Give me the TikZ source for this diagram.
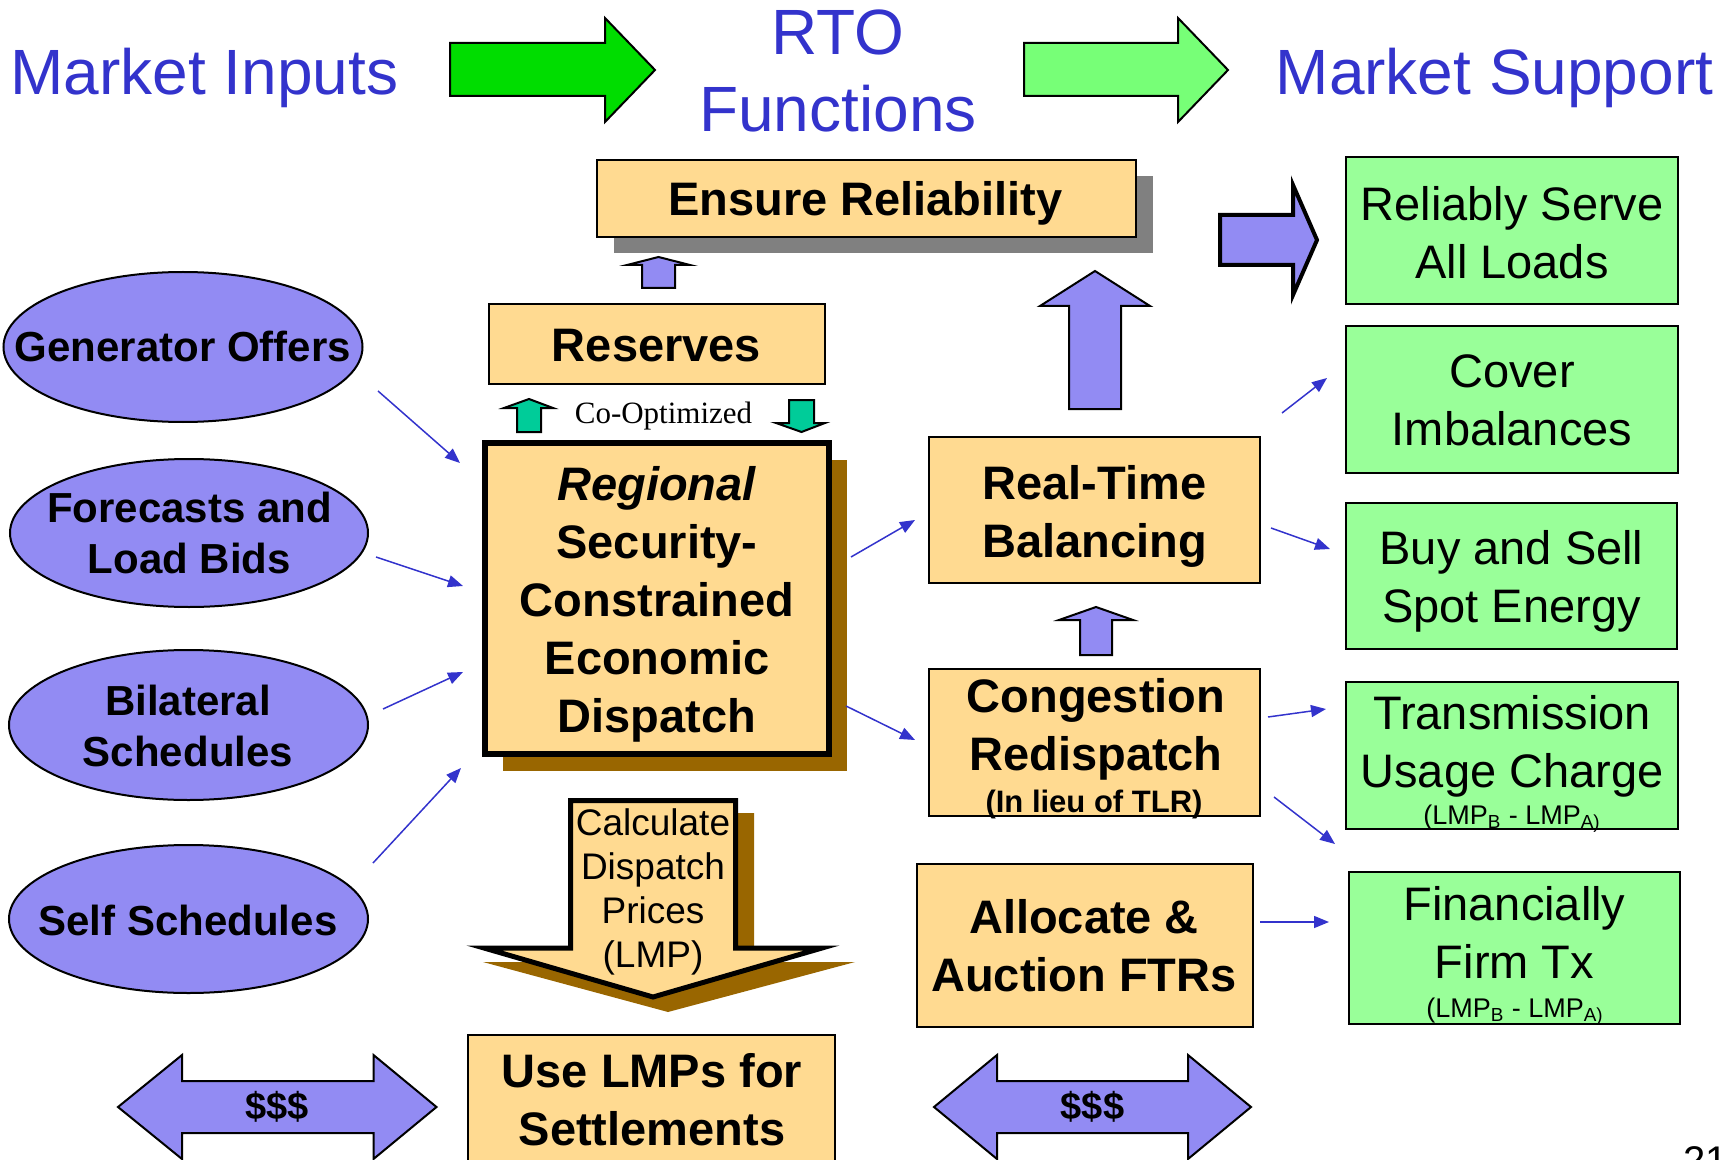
\documentclass[tikz,border=0pt]{standalone}
\usepackage{fontspec}
\setmainfont{Liberation Sans}
\newfontfamily\seriffont{Liberation Serif}
\usetikzlibrary{arrows.meta,shapes.geometric,shadows}
\definecolor{tblue}{RGB}{51,51,204}
\definecolor{boxtan}{RGB}{255,218,145}
\definecolor{lav}{RGB}{146,139,243}
\definecolor{lgreen}{RGB}{153,255,153}
\definecolor{ggreen}{RGB}{0,221,0}
\definecolor{agreen}{RGB}{119,255,119}
\definecolor{tealc}{RGB}{0,204,153}
\definecolor{brownc}{RGB}{153,102,0}
\definecolor{grayc}{RGB}{128,128,128}
\newcommand\ts{\rule{0pt}{0.76em}}
\begin{document}
\begin{tikzpicture}[x=0.5pt,y=-0.5pt,
  tanbox/.style={draw=black, line width=1pt, fill=boxtan, inner sep=0pt},
  greenbox/.style={draw=black, line width=1pt, fill=lgreen, inner sep=0pt},
  ellnode/.style={ellipse, draw=black, line width=1pt, fill=lav, inner sep=0pt},
  boldtxt/.style={font=\bfseries\fontsize{23.5}{29}\selectfont, align=center, inner sep=0pt},
  plaintxt/.style={font=\fontsize{23.5}{29}\selectfont, align=center, inner sep=0pt},
  elltxt/.style={font=\bfseries\fontsize{21}{25.5}\selectfont, align=center, inner sep=0pt},
  titletxt/.style={font=\fontsize{32}{38}\selectfont, text=tblue, inner sep=0pt, anchor=base},
  smalltxt/.style={font=\fontsize{13.5}{16}\selectfont, inner sep=0pt, anchor=base},
  conn/.style={draw=tblue, line width=0.75pt, -{Triangle[length=7.5pt,width=6pt]}},
  blockarrow/.style={draw=black, line width=1pt, line join=miter},
]
\useasboundingbox (0,0) rectangle (1733,1160);
\clip (0,0) rectangle (1733,1160);

% ---------- titles ----------
\node[titletxt] (tIn) at (204.5,95) {Market Inputs};
\node[titletxt] (tRTO) at (838,55) {RTO};
\node[titletxt] (tFun) at (838,132) {Functions};
\node[titletxt] (tSup) at (1494.5,95) {Market Support};
\draw[blockarrow, fill=ggreen] (450,43) -- (605,43) -- (605,18) -- (655,70) -- (605,122) -- (605,96) -- (450,96) -- cycle;
\draw[blockarrow, fill=agreen] (1024,43) -- (1178,43) -- (1178,18) -- (1228,70) -- (1178,122) -- (1178,96) -- (1024,96) -- cycle;

% ---------- ellipses ----------
\node[ellnode, minimum width=179.5pt, minimum height=75pt] (gen) at (183,347) {};
\node[ellnode, minimum width=179pt, minimum height=74pt] (fc) at (189,533) {};
\node[ellnode, minimum width=179.5pt, minimum height=75pt] (bil) at (188.5,725) {};
\node[ellnode, minimum width=179.5pt, minimum height=74pt] (self) at (188.5,919) {};
\node[elltxt, anchor=base] (genT) at (183,362) {Generator Offers};
\node[elltxt, anchor=north] (fcT) at (189.5,490) {\ts Forecasts and\\Load Bids};
\node[elltxt, anchor=north] (bilT) at (188,683) {\ts Bilateral\\Schedules};
\node[elltxt, anchor=base] (selfT) at (188,935) {Self Schedules};

% ---------- centre column ----------
\node[tanbox, minimum width=269.5pt, minimum height=38.5pt,
      drop shadow={shadow xshift=8.5pt, shadow yshift=-8pt, fill=grayc, opacity=1}] (rel) at (866.5,198.5) {};
\node[boldtxt, anchor=base] (relT) at (865.5,216) {Ensure Reliability};

\draw[blockarrow, fill=lav] (642,288) -- (642,265) -- (627,265) -- (658.5,257) -- (690,265) -- (675,265) -- (675,288) -- cycle;

\node[tanbox, minimum width=168pt, minimum height=40pt] (res) at (657,344) {};
\node[boldtxt, anchor=base] (resT) at (656.5,362) {Reserves};

\draw[blockarrow, fill=tealc] (517,432) -- (517,408) -- (504,408) -- (529,399) -- (553,408) -- (541,408) -- (541,432) -- cycle;
\draw[blockarrow, fill=tealc] (789,400) -- (814,400) -- (814,423) -- (825,423) -- (801.5,432) -- (776,423) -- (789,423) -- cycle;
\node[font=\seriffont\fontsize{15.5}{18}\selectfont, inner sep=0pt, anchor=base] (coT) at (663.5,423) {Co-Optimized};

\node[tanbox, line width=3pt, minimum width=172pt, minimum height=155.5pt,
      drop shadow={shadow xshift=9pt, shadow yshift=-8.5pt, fill=brownc, opacity=1}] (sced) at (657,598.5) {};
\node[boldtxt, anchor=north] (scedT) at (657,464.3) {\ts\textit{Regional}\\Security-\\Constrained\\Economic\\Dispatch};

% calculate arrow
\fill[brownc] (584,813) -- (754,813) -- (754,962) -- (855,962) -- (668,1012) -- (483,962) -- (584,962) -- cycle;
\draw[line width=2.5pt, fill=boxtan, line join=miter] (570.5,800.5) -- (735.5,800.5) -- (735.5,948) -- (822,948) -- (653,997) -- (484,948) -- (570.5,948) -- cycle;
\node[font=\fontsize{18.5}{22}\selectfont, align=center, inner sep=0pt, anchor=north] (calcT) at (653,806.9) {\ts Calculate\\Dispatch\\Prices\\(LMP)};

\node[tanbox, minimum width=183.5pt, minimum height=107.5pt] (lmp) at (651.5,1142.5) {};
\node[boldtxt, anchor=north] (lmpT) at (652,1051.3) {\ts Use LMPs for\\Settlements};

% $$$ double arrows
\draw[blockarrow, fill=lav] (118,1107) -- (182,1055) -- (182,1081) -- (373.5,1081) -- (373.5,1055) -- (436.5,1107) -- (373.5,1159) -- (373.5,1133) -- (182,1133) -- (182,1159) -- cycle;
\draw[blockarrow, fill=lav] (934,1107) -- (997,1055) -- (997,1081) -- (1188,1081) -- (1188,1055) -- (1251,1107) -- (1188,1159) -- (1188,1133) -- (997,1133) -- (997,1159) -- cycle;
\node[font=\bfseries\fontsize{19}{22}\selectfont, inner sep=0pt, anchor=base] (d1) at (277,1119) {\$\$\$};
\node[font=\bfseries\fontsize{19}{22}\selectfont, inner sep=0pt, anchor=base] (d2) at (1092.5,1119) {\$\$\$};

% ---------- right-centre column ----------
\draw[blockarrow, fill=lav] (1069,409) -- (1069,306) -- (1040,306) -- (1095,271) -- (1150,306) -- (1121,306) -- (1121,409) -- cycle;

\node[tanbox, minimum width=165.5pt, minimum height=73pt] (rt) at (1094.5,510) {};
\node[boldtxt, anchor=north] (rtT) at (1094.5,463.3) {\ts Real-Time\\Balancing};

\draw[blockarrow, fill=lav] (1080,655) -- (1080,620) -- (1059,620) -- (1096,607) -- (1133,620) -- (1112,620) -- (1112,655) -- cycle;

\node[tanbox, minimum width=165.5pt, minimum height=73.5pt] (cg) at (1094.5,742.5) {};
\node[boldtxt, anchor=north] (cgT) at (1096,676.3) {\ts Congestion\\Redispatch};
\node[font=\bfseries\fontsize{15.5}{18}\selectfont, inner sep=0pt, anchor=base] (cgS) at (1094,812) {(In lieu of TLR)};

\node[tanbox, minimum width=168pt, minimum height=81.5pt] (al) at (1085,945.5) {};
\node[boldtxt, anchor=north] (alT) at (1084,897.3) {\ts Allocate \&\\Auction FTRs};

% ---------- market support ----------
\draw[blockarrow, line width=2pt, fill=lav] (1220,215) -- (1293,215) -- (1293,185) -- (1317,240) -- (1293,295) -- (1293,265) -- (1220,265) -- cycle;

\node[greenbox, minimum width=166pt, minimum height=73.5pt] (serve) at (1512,230.5) {};
\node[plaintxt, anchor=north] (serveT) at (1512,184.3) {\ts Reliably Serve\\All Loads};
\node[greenbox, minimum width=166pt, minimum height=73.5pt] (cover) at (1512,399.5) {};
\node[plaintxt, anchor=north] (coverT) at (1512,351.3) {\ts Cover\\Imbalances};
\node[greenbox, minimum width=165.5pt, minimum height=73pt] (buy) at (1511.5,576) {};
\node[plaintxt, anchor=north] (buyT) at (1511.5,528.3) {\ts Buy and Sell\\Spot Energy};
\node[greenbox, minimum width=166pt, minimum height=73.5pt] (trans) at (1512,755.5) {};
\node[plaintxt, anchor=north] (transT) at (1512,693.3) {\ts Transmission\\Usage Charge};
\node[smalltxt] (transS) at (1512,824) {(LMP\textsubscript{B} - LMP\textsubscript{A)}};
\node[greenbox, minimum width=165.5pt, minimum height=76pt] (fin) at (1514.5,948) {};
\node[plaintxt, anchor=north] (finT) at (1514.5,884.3) {\ts Financially\\Firm Tx};
\node[smalltxt] (finS) at (1515,1017) {(LMP\textsubscript{B} - LMP\textsubscript{A)}};

\node[font=\fontsize{20}{24}\selectfont, inner sep=0pt, anchor=base west] (pg) at (1683,1174) {21};

% ---------- connectors ----------
\coordinate (c1a) at (378,391);  \coordinate (c1b) at (460,463);
\coordinate (c2a) at (376,557);  \coordinate (c2b) at (463,586);
\coordinate (c3a) at (383,709);  \coordinate (c3b) at (463,672);
\coordinate (c4a) at (373,863);  \coordinate (c4b) at (461,768);
\coordinate (c5a) at (851,557);  \coordinate (c5b) at (915,520);
\coordinate (c6a) at (846,706);  \coordinate (c6b) at (915,740);
\coordinate (c7a) at (1282,413); \coordinate (c7b) at (1327,378);
\coordinate (c8a) at (1271,528); \coordinate (c8b) at (1330,549);
\coordinate (c9a) at (1268,717); \coordinate (c9b) at (1326,709);
\coordinate (c10a) at (1274,797); \coordinate (c10b) at (1335,844);
\coordinate (c11a) at (1260,922); \coordinate (c11b) at (1329,922);
\foreach \i in {1,...,11} {\draw[conn] (c\i a) -- (c\i b);}
\end{tikzpicture}
\end{document}
